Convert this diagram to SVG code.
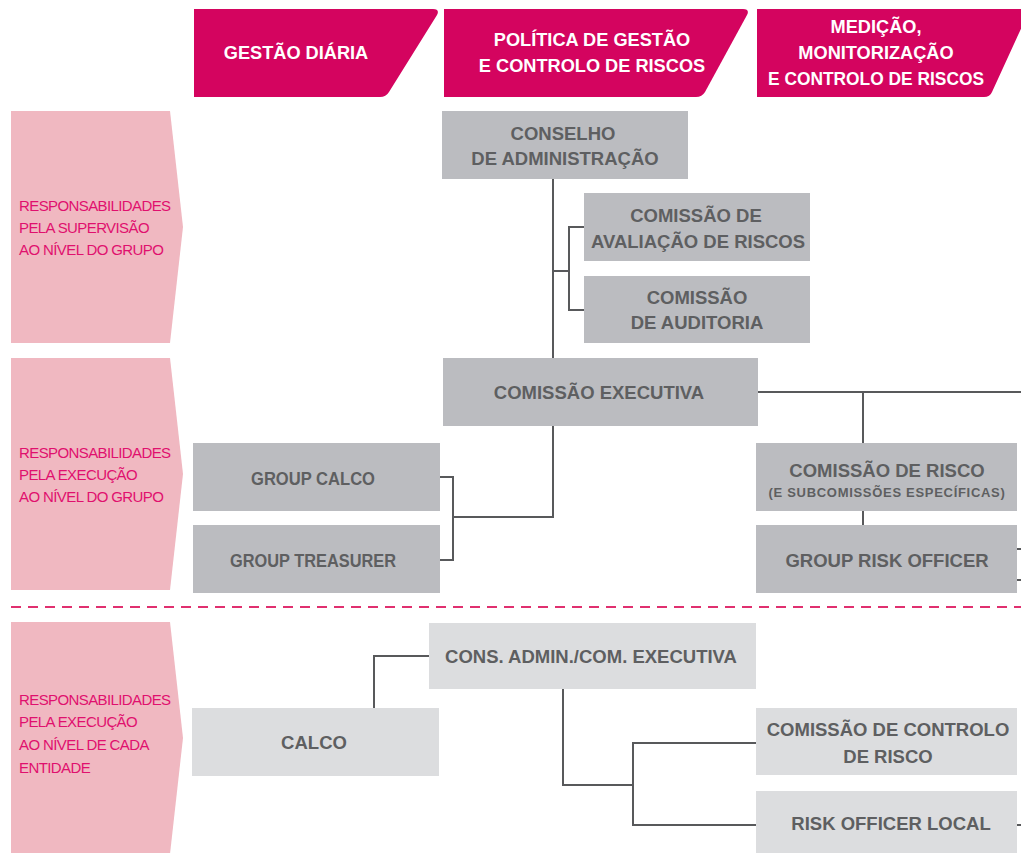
<svg xmlns="http://www.w3.org/2000/svg" width="1021" height="853" viewBox="0 0 1021 853">
<style>
.hdr{fill:#D4045F}
.ht{fill:#fff;font-family:"Liberation Sans",Arial,sans-serif;font-weight:bold;font-size:18.2px;text-anchor:middle}
.pan{fill:#F0B8C1}
.pt{fill:#E0106E;font-family:"Liberation Sans",Arial,sans-serif;font-size:15px;letter-spacing:-0.6px}
.dk{fill:#BBBCC0}
.lt{fill:#DCDDDF}
.nt{fill:#5E5F61;font-family:"Liberation Sans",Arial,sans-serif;font-weight:bold;font-size:18.5px;text-anchor:middle}
.st{fill:#5E5F61;font-family:"Liberation Sans",Arial,sans-serif;font-weight:bold;font-size:13px;letter-spacing:0.7px;text-anchor:middle}
.cn{fill:none;stroke:#58595B;stroke-width:2}
</style>
<rect width="1021" height="853" fill="#fff"/>

<g id="header-gestao-diaria">
<path class="hdr" d="M194,9 H433 Q440,9 437,15 L389,92 Q386,97 380,97 H194 Z"/>
<text class="ht" x="296" y="59">GESTÃO DIÁRIA</text>
</g>
<g id="header-politica">
<path class="hdr" d="M444,9 H743 Q750,9 747,15 L705,92 Q702,97 696,97 H444 Z"/>
<text class="ht" x="592" y="46">POLÍTICA DE GESTÃO</text>
<text class="ht" x="592" y="72">E CONTROLO DE RISCOS</text>
</g>
<g id="header-medicao">
<path class="hdr" d="M757,9 H1030 L992,92 Q990,97 984,97 H757 Z"/>
<text class="ht" x="876" y="33">MEDIÇÃO,</text>
<text class="ht" x="876" y="59">MONITORIZAÇÃO</text>
<text class="ht" x="876" y="85" textLength="216" lengthAdjust="spacingAndGlyphs">E CONTROLO DE RISCOS</text>
</g>

<g id="panel-supervisao">
<polygon class="pan" points="11,111 170,111 183,227 170,343 11,343"/>
<text class="pt" x="19" y="211">RESPONSABILIDADES</text>
<text class="pt" x="19" y="233">PELA SUPERVISÃO</text>
<text class="pt" x="19" y="255">AO NÍVEL DO GRUPO</text>
</g>
<g id="panel-execucao-grupo">
<polygon class="pan" points="11,358 170,358 183,474 170,590 11,590"/>
<text class="pt" x="19" y="458">RESPONSABILIDADES</text>
<text class="pt" x="19" y="480">PELA EXECUÇÃO</text>
<text class="pt" x="19" y="502">AO NÍVEL DO GRUPO</text>
</g>
<g id="panel-execucao-entidade">
<polygon class="pan" points="11,622 170,622 183,738 170,854 11,854"/>
<text class="pt" x="19" y="705">RESPONSABILIDADES</text>
<text class="pt" x="19" y="727">PELA EXECUÇÃO</text>
<text class="pt" x="19" y="750">AO NÍVEL DE  CADA</text>
<text class="pt" x="19" y="773">ENTIDADE</text>
</g>

<line x1="11" y1="607" x2="1021" y2="607" stroke="#E0306F" stroke-width="2" stroke-dasharray="10,7"/>

<g id="connectors">
<path class="cn" d="M553,179 V358"/>
<path class="cn" d="M553,271 H569 M584,227 H569 V310 H584"/>
<path class="cn" d="M758,392 H1021"/>
<path class="cn" d="M863,392 V443 M863,511 V525"/>
<path class="cn" d="M1017,549 H1021 M1017,580 H1021"/>
<path class="cn" d="M553,426 V517 H453"/>
<path class="cn" d="M440,477 H453 V560 H440"/>
<path class="cn" d="M374,708 V656 H429"/>
<path class="cn" d="M563,689 V785 H633"/>
<path class="cn" d="M756,743 H633 V825 H756"/>
<path class="cn" d="M1017,825 H1021"/>
</g>

<g id="node-conselho">
<rect class="dk" x="442" y="111" width="246" height="68"/>
<text class="nt" x="563" y="140">CONSELHO</text>
<text class="nt" x="565" y="165">DE ADMINISTRAÇÃO</text>
</g>
<g id="node-avaliacao">
<rect class="dk" x="584" y="193" width="226" height="68"/>
<text class="nt" x="696" y="222">COMISSÃO DE</text>
<text class="nt" x="698" y="248">AVALIAÇÃO DE RISCOS</text>
</g>
<g id="node-auditoria">
<rect class="dk" x="584" y="276" width="226" height="67"/>
<text class="nt" x="697" y="304">COMISSÃO</text>
<text class="nt" x="697" y="329">DE AUDITORIA</text>
</g>
<g id="node-executiva">
<rect class="dk" x="443" y="358" width="315" height="68"/>
<text class="nt" x="599" y="399">COMISSÃO EXECUTIVA</text>
</g>
<g id="node-group-calco">
<rect class="dk" x="193" y="443" width="247" height="68"/>
<text class="nt" x="313" y="485" textLength="124" lengthAdjust="spacingAndGlyphs">GROUP CALCO</text>
</g>
<g id="node-group-treasurer">
<rect class="dk" x="193" y="525" width="247" height="68"/>
<text class="nt" x="313" y="567" textLength="166" lengthAdjust="spacingAndGlyphs">GROUP TREASURER</text>
</g>
<g id="node-comissao-risco">
<rect class="dk" x="756" y="443" width="261" height="68"/>
<text class="nt" x="887" y="477">COMISSÃO DE RISCO</text>
<text class="st" x="887" y="497">(E SUBCOMISSÕES ESPECÍFICAS)</text>
</g>
<g id="node-group-risk-officer">
<rect class="dk" x="756" y="525" width="261" height="68"/>
<text class="nt" x="887" y="567">GROUP RISK OFFICER</text>
</g>
<g id="node-cons-admin">
<rect class="lt" x="429" y="623" width="327" height="66"/>
<text class="nt" x="591" y="663">CONS. ADMIN./COM. EXECUTIVA</text>
</g>
<g id="node-calco">
<rect class="lt" x="192" y="708" width="247" height="68"/>
<text class="nt" x="314" y="749">CALCO</text>
</g>
<g id="node-controlo-risco">
<rect class="lt" x="756" y="708" width="261" height="67"/>
<text class="nt" x="888" y="736">COMISSÃO DE CONTROLO</text>
<text class="nt" x="888" y="763">DE RISCO</text>
</g>
<g id="node-risk-officer-local">
<rect class="lt" x="756" y="791" width="261" height="63"/>
<text class="nt" x="891" y="830">RISK OFFICER LOCAL</text>
</g>
</svg>
